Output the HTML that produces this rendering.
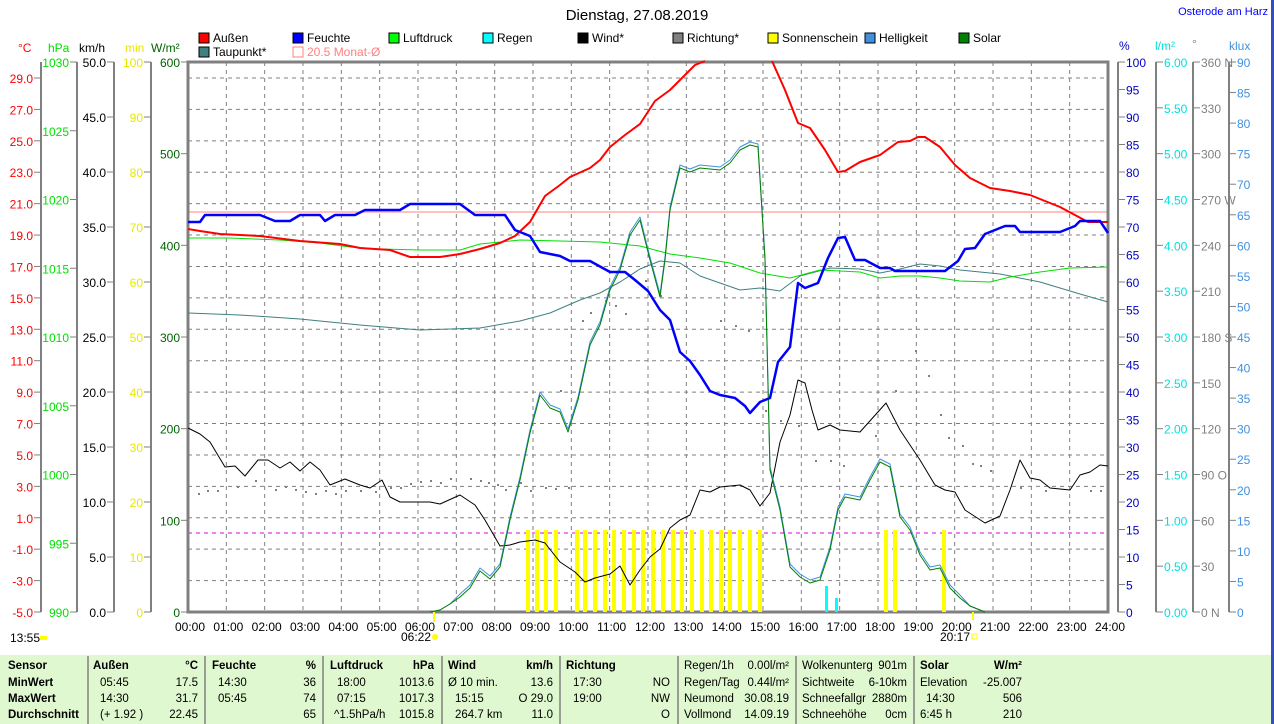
<!DOCTYPE html>
<html><head><meta charset="utf-8"><style>
body{margin:0;background:#fff;width:1274px;height:724px;overflow:hidden;font-family:"Liberation Sans",sans-serif}
svg{display:block}
text{font-family:"Liberation Sans",sans-serif;font-size:12px}
text.tb{font-size:11.5px}
</style></head><body>
<svg id="s" width="1274" height="724" xmlns="http://www.w3.org/2000/svg"></svg>
<script>
const s=document.getElementById('s');let h='';
const X0=188,X1=1108,Y0=612,Y1=62;
function t(x,y,str,c,a,extra){h+=`<text x="${x}" y="${y}" fill="${c}" text-anchor="${a||'start'}" ${extra||''}>${str}</text>`;}
function l(x1,y1,x2,y2,c,w,d){h+=`<line x1="${x1}" y1="${y1}" x2="${x2}" y2="${y2}" stroke="${c}" stroke-width="${w||1}" ${d?`stroke-dasharray="${d}"`:''}/>`;}
function pl(p,c,w){h+=`<polyline fill="none" stroke="${c}" stroke-width="${w||1}" stroke-linejoin="round" points="${p.map(q=>q.join(',')).join(' ')}"/>`;}
for(let i=1;i<24;i++){let x=X0+i*(X1-X0)/24;l(x,Y1,x,Y0,'#808080',1,'4,4');}
for(let v=-3;v<=29;v+=2){let y=Y0-(v+5)*534/34;l(X0,y,X1,y,'#808080',1,'4,4');}
l(X0,212,X1,212,'#ff8080',1);
l(X0,533,X1,533,'#e000e0',1,'4,4');
h+=`<rect x="${X0}" y="${Y1}" width="${X1-X0}" height="${Y0-Y1}" fill="none" stroke="#808080" stroke-width="3"/>`;
function axis(x,vals,ymap,c,fmt){l(x,Y1,x,Y0,'#808080',2);vals.forEach(v=>{let y=ymap(v);l(x-7,y,x,y,'#808080',1);t(x-8,y+5,fmt(v),c,'end');});}
function rng(a,b,st){let r=[];for(let v=a;v<=b+1e-9;v+=st)r.push(+v.toFixed(3));return r;}
axis(41,rng(-5,29,2),v=>Y0-(v+5)*534/34,'#ff0000',v=>v.toFixed(1));
axis(77,rng(990,1030,5),v=>Y0-(v-990)*550/40,'#00e000',v=>v);
axis(114,rng(0,50,5),v=>Y0-v*11,'#000',v=>v.toFixed(1));
axis(151,rng(0,100,10),v=>Y0-v*5.5,'#e8e800',v=>v);
rng(0,600,100).forEach(v=>{let y=Y0-v*550/600;l(X0-7,y,X0,y,'#808080');t(X0-8,y+5,v,'#006400','end');});
function raxis(x,vals,ymap,c,fmt){l(x,Y1,x,Y0,'#808080',2);vals.forEach(v=>{let y=ymap(v);l(x,y,x+7,y,'#808080',1);t(x+8,y+5,fmt(v),c,'start');});}
raxis(1118,rng(0,100,5),v=>Y0-v*5.5,'#0000c0',v=>v);
raxis(1156,rng(0,6,0.5),v=>Y0-v*550/6,'#00e0e0',v=>v.toFixed(2));
raxis(1193,rng(0,360,30),v=>Y0-v*550/360,'#808080',v=>v+({0:' N',90:' O',180:' S',270:' W',360:' N'}[v]||''));
raxis(1229,rng(0,90,5),v=>Y0-v*550/90,'#4090e0',v=>v);
t(18,52,'°C','#ff0000');t(48,52,'hPa','#00e000');t(79,52,'km/h','#000');t(125,52,'min','#e8e800');t(151,52,'W/m²','#006400');
t(1119,50,'%','#0000c0');t(1155,50,'l/m²','#00e0e0');t(1192,48,'°','#808080');t(1229,50,'klux','#4090e0');
t(637,20,'Dienstag, 27.08.2019','#000','middle','style="font-size:15px"');
t(1268,15,'Osterode am Harz','#0000ff','end','style="font-size:11px"');
function lg(x,y,c,str,tc,hollow){h+=`<rect x="${x}" y="${y-9}" width="10" height="10" fill="${hollow?'none':c}" stroke="${hollow?c:'#000'}"/>`;t(x+14,y,str,tc||'#000');}
lg(199,42,'#ff0000','Außen');lg(293,42,'#0000ff','Feuchte');lg(389,42,'#00ff00','Luftdruck');lg(483,42,'#00ffff','Regen');
lg(578,42,'#000','Wind*');lg(673,42,'#808080','Richtung*');lg(768,42,'#ffff00','Sonnenschein');lg(865,42,'#4090e0','Helligkeit');lg(959,42,'#008000','Solar');
lg(199,56,'#408080','Taupunkt*');lg(293,56,'#ff8080','20.5 Monat-Ø','#ff8080',true);
[528,537,546,556,577,585,595,605,614,624,634,643,653,663,673,682,692,702,711,721,730,740,750,760,886,895,944].forEach(x=>h+=`<rect x="${x-2}" y="530" width="4" height="82" fill="#ffff00"/>`);
h+=`<rect x="825" y="586" width="3" height="26" fill="#00ffff"/><rect x="835" y="598" width="3" height="14" fill="#00ffff"/>`;
[[198,493],[207,490],[217,490],[237,486],[255,480],[275,489],[285,486],[295,489],[305,491],[315,493],[325,490],[335,493],[345,490],[360,490],[375,491],[390,487],[400,487],[410,483],[420,481],[430,480],[440,482],[450,478],[470,478],[480,480],[488,482],[497,484],[505,489],[520,482],[530,490],[545,487],[555,488],[560,390],[568,487],[582,320],[590,312],[605,300],[615,305],[625,313],[645,280],[660,295],[720,320],[735,325],[748,330],[765,410],[780,420],[798,425],[815,460],[830,460],[843,465],[875,435],[895,390],[915,350],[928,375],[940,414],[948,437],[962,445],[972,463],[980,465],[990,470],[1020,487],[1045,490],[1090,490],[1100,490]].forEach(p=>h+=`<rect x="${p[0]}" y="${p[1]}" width="2" height="2" fill="#808080"/>`);
pl([[188,313],[240,315],[300,319],[360,325],[420,330],[480,328],[520,321],[550,313],[580,300],[600,293],[620,282],[640,269],[660,261],[680,263],[700,276],[720,283],[740,290],[760,288],[780,291],[800,276],[830,268],[860,269],[880,273],[900,269],[920,264],[940,266],[960,270],[1000,274],[1040,282],[1080,294],[1108,302]],'#408080');
pl([[188,238],[230,238],[280,240],[320,243],[350,247],[380,249],[420,250],[460,250],[480,244],[520,240],[560,241],[600,242],[640,246],[670,254],[700,258],[730,263],[760,273],[790,278],[820,270],[860,272],[880,278],[900,276],[920,276],[940,278],[960,281],[990,282],[1010,277],[1040,272],[1070,268],[1108,267]],'#00e000');
pl([[188,428],[200,434],[210,442],[225,467],[235,466],[245,476],[258,460],[268,460],[280,468],[290,462],[300,471],[310,462],[320,470],[330,485],[345,479],[360,485],[370,488],[382,480],[390,497],[400,502],[430,502],[440,504],[460,495],[475,505],[485,520],[500,546],[510,545],[520,542],[535,540],[545,543],[560,562],[575,572],[585,582],[595,578],[610,574],[620,566],[630,585],[640,570],[650,557],[660,549],[670,528],[680,520],[690,515],[700,490],[710,492],[720,487],[740,485],[750,490],[760,506],[770,493],[780,442],[790,415],[798,380],[805,383],[812,410],[818,430],[830,425],[840,430],[860,432],[886,403],[900,430],[920,460],[935,485],[945,490],[955,492],[965,510],[985,523],[1000,516],[1010,490],[1020,460],[1030,478],[1040,480],[1050,488],[1070,490],[1080,475],[1090,472],[1100,465],[1108,466]],'#000');
const sol=[[430,612],[440,610],[450,604],[460,597],[470,588],[480,571],[490,579],[500,567],[510,520],[520,480],[530,433],[540,395],[550,408],[560,412],[568,432],[578,400],[590,345],[600,325],[610,290],[620,270],[630,235],[640,220],[650,260],[660,297],[665,260],[670,210],[680,168],[690,172],[700,168],[720,170],[730,163],[740,150],[750,145],[758,147],[765,260],[770,470],[780,510],[790,567],[800,577],[810,583],[820,580],[830,550],[838,510],[845,497],[860,500],[870,480],[880,462],[890,467],[900,517],[910,530],[920,555],[930,570],[940,568],[950,588],[960,598],[970,606],[985,612]];
pl(sol.map(p=>[p[0],p[1]-(p[1]<600?3:0)]),'#4090e0');
pl(sol,'#008000');
pl([[188,229],[200,231],[220,234],[260,236],[300,241],[340,244],[360,248],[390,250],[410,257],[440,257],[460,254],[480,249],[500,243],[515,236],[530,222],[545,196],[560,185],[570,177],[590,168],[600,160],[610,147],[625,135],[640,124],[655,101],[670,90],[685,75],[695,65],[705,61]],'#ff0000',2);
pl([[772,61],[785,90],[798,123],[810,128],[825,150],[838,172],[845,171],[860,162],[880,155],[898,142],[910,141],[918,137],[925,137],[940,147],[955,165],[970,178],[990,188],[1010,191],[1030,195],[1060,207],[1088,222],[1108,222]],'#ff0000',2);
pl([[188,222],[200,222],[205,215],[260,215],[275,221],[290,221],[300,215],[320,215],[325,221],[335,215],[355,215],[365,210],[400,210],[410,204],[460,204],[475,215],[505,215],[515,230],[530,236],[540,252],[560,256],[570,261],[590,261],[610,272],[625,272],[635,280],[648,291],[660,310],[670,320],[680,352],[690,361],[700,375],[710,391],[720,395],[735,398],[745,406],[750,413],[760,402],[770,398],[778,362],[790,347],[798,283],[805,288],[818,283],[828,258],[838,238],[845,237],[855,260],[865,260],[880,268],[890,268],[895,271],[945,271],[958,261],[965,249],[975,248],[985,234],[1005,226],[1015,226],[1020,232],[1060,232],[1075,226],[1080,221],[1100,221],[1108,233]],'#0000ff',2.5);
for(let i=0;i<=24;i++){let x=X0+i*(X1-X0)/24+2;t(x,631,String(i).padStart(2,'0')+':00','#000','middle');}
t(10,642,'13:55','#000');h+=`<rect x="40" y="636" width="7" height="4" fill="#ffff00"/>`;
t(401,641,'06:22','#000');h+=`<circle cx="435" cy="637" r="3" fill="#ffff00"/><rect x="433" y="612" width="2" height="10" fill="#ffff00"/>`;
t(940,641,'20:17','#000');h+=`<rect x="972" y="634" width="5" height="5" fill="none" stroke="#ffff00"/><rect x="972" y="612" width="2" height="8" fill="#ffff00"/>`;
h+=`<rect x="0" y="655" width="1271" height="69" fill="#e0f8d0"/>`;
[88,205,323,442,560,678,796,914].forEach(x=>l(x,656,x,724,'#808080',1.5));
h+=`<rect x="1271" y="0" width="3" height="724" fill="#3050c0"/>`;
const B='font-weight="bold" class="tb"', N='class="tb"';
const T=(x,y,str,a,b)=>t(x,y,str,'#000',a||'start',b?B:N);
const rows=[669,686,702,718];
T(8,rows[0],'Sensor','',1);T(8,rows[1],'MinWert','',1);T(8,rows[2],'MaxWert','',1);T(8,rows[3],'Durchschnitt','',1);
T(93,rows[0],'Außen','',1);T(198,rows[0],'°C','end',1);
T(100,rows[1],'05:45');T(198,rows[1],'17.5','end');T(100,rows[2],'14:30');T(198,rows[2],'31.7','end');T(100,rows[3],'(+ 1.92 )');T(198,rows[3],'22.45','end');
T(212,rows[0],'Feuchte','',1);T(316,rows[0],'%','end',1);
T(218,rows[1],'14:30');T(316,rows[1],'36','end');T(218,rows[2],'05:45');T(316,rows[2],'74','end');T(316,rows[3],'65','end');
T(330,rows[0],'Luftdruck','',1);T(434,rows[0],'hPa','end',1);
T(337,rows[1],'18:00');T(434,rows[1],'1013.6','end');T(337,rows[2],'07:15');T(434,rows[2],'1017.3','end');T(334,rows[3],'^1.5hPa/h');T(434,rows[3],'1015.8','end');
T(448,rows[0],'Wind','',1);T(553,rows[0],'km/h','end',1);
T(448,rows[1],'Ø 10 min.');T(553,rows[1],'13.6','end');T(455,rows[2],'15:15');T(553,rows[2],'O 29.0','end');T(455,rows[3],'264.7 km');T(553,rows[3],'11.0','end');
T(566,rows[0],'Richtung','',1);
T(573,rows[1],'17:30');T(670,rows[1],'NO','end');T(573,rows[2],'19:00');T(670,rows[2],'NW','end');T(670,rows[3],'O','end');
[['Regen/1h','0.00l/m²'],['Regen/Tag','0.44l/m²'],['Neumond','30.08.19'],['Vollmond','14.09.19']].forEach((r,i)=>{T(684,rows[i],r[0]);T(789,rows[i],r[1],'end');});
[['Wolkenunterg','901m'],['Sichtweite','6-10km'],['Schneefallgr','2880m'],['Schneehöhe','0cm']].forEach((r,i)=>{T(802,rows[i],r[0]);T(907,rows[i],r[1],'end');});
T(920,rows[0],'Solar','',1);T(1022,rows[0],'W/m²','end',1);
T(920,rows[1],'Elevation');T(1022,rows[1],'-25.007','end');T(926,rows[2],'14:30');T(1022,rows[2],'506','end');T(920,rows[3],'6:45 h');T(1022,rows[3],'210','end');
s.innerHTML=h;
</script>
</body></html>
